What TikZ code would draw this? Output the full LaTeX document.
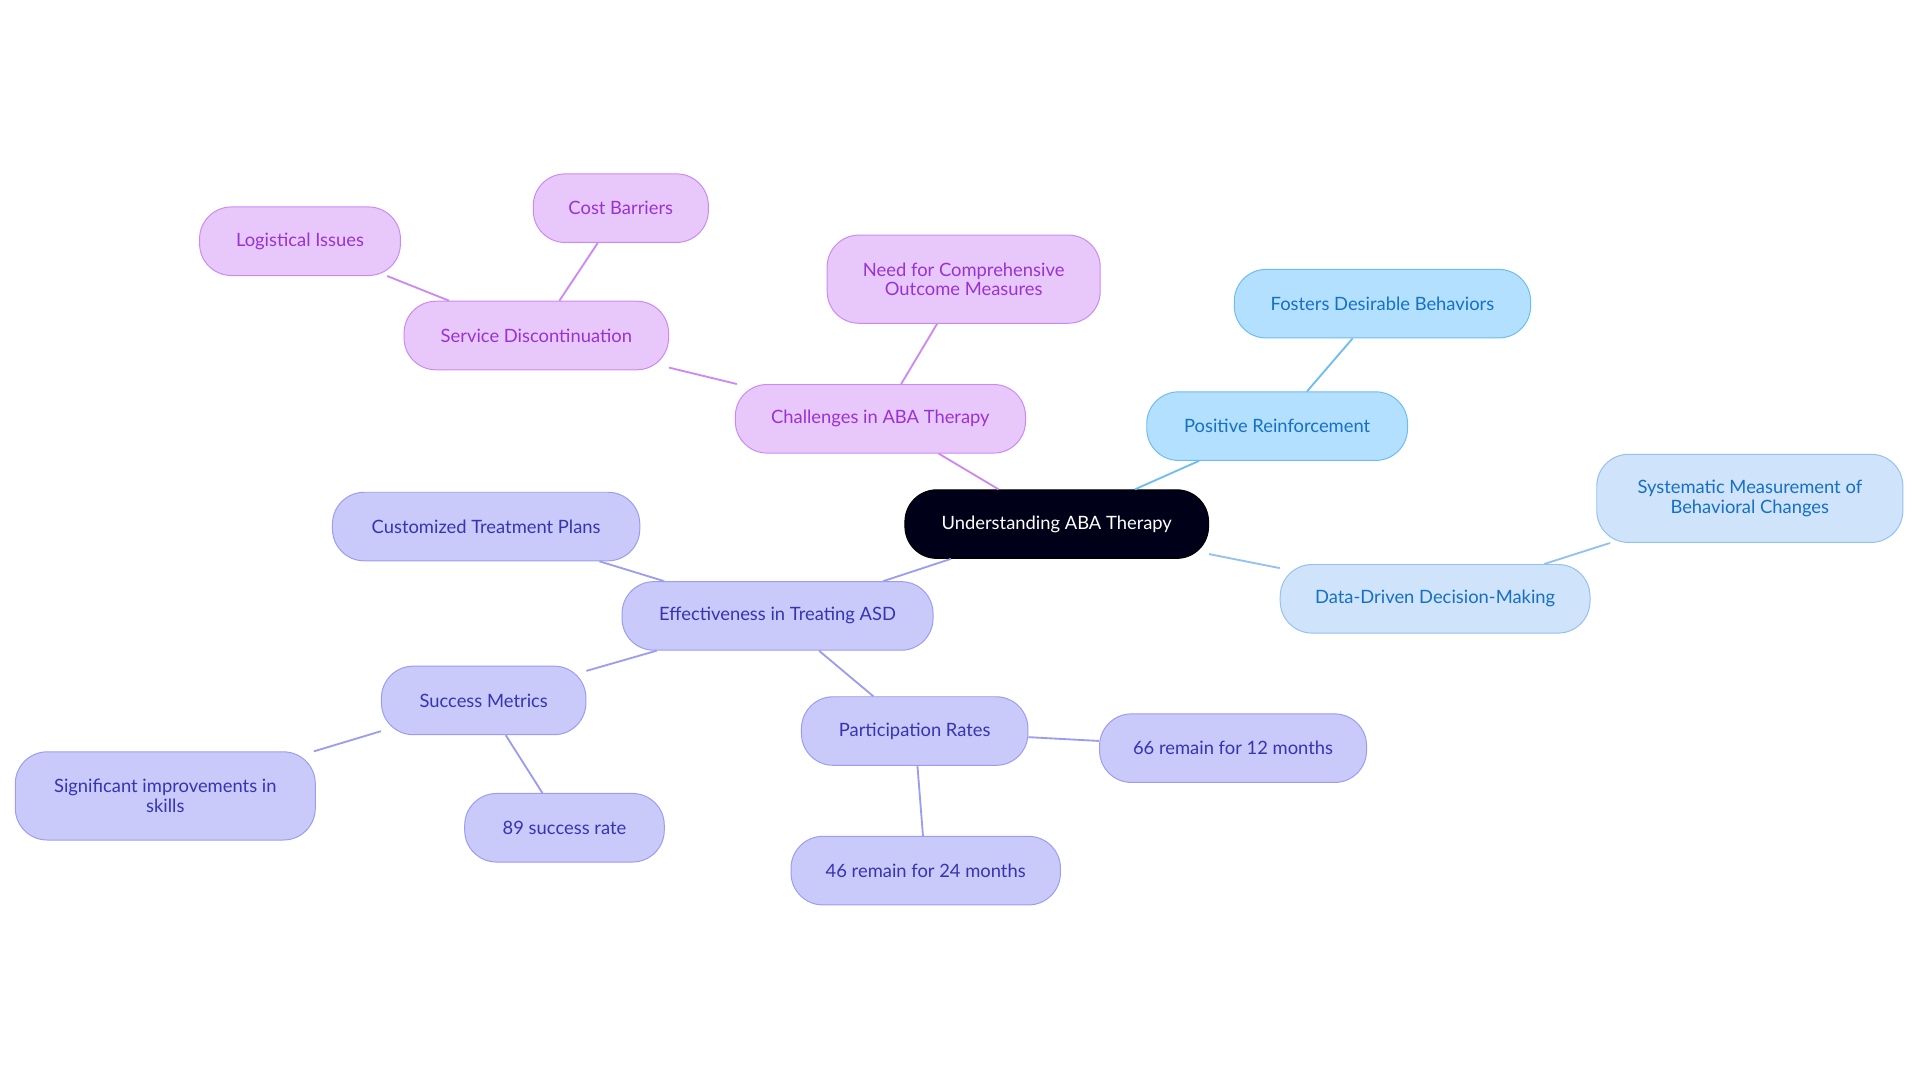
\documentclass[tikz,border=0pt]{standalone}
\usepackage{fontspec}
\setmainfont{Lato}
\definecolor{pf}{HTML}{E8C8FB}\definecolor{ps}{HTML}{CC88F5}\definecolor{pt}{HTML}{9A32D2}
\definecolor{bf}{HTML}{B3E0FF}\definecolor{bs}{HTML}{6DBDF2}\definecolor{bt}{HTML}{1670C4}
\definecolor{lf}{HTML}{CFE3FA}\definecolor{ls}{HTML}{94C0F2}
\definecolor{if}{HTML}{C9C9FA}\definecolor{is}{HTML}{9C9CF0}\definecolor{it}{HTML}{3535B2}
\tikzset{
 box/.style={rounded corners=26pt,draw,line width=0.8pt,minimum height=56pt,align=center,font=\fontsize{15}{16}\selectfont,inner sep=4pt},
 pb/.style={box,fill=pf,draw=ps,text=pt},
 bb/.style={box,fill=bf,draw=bs,text=bt},
 lb/.style={box,fill=lf,draw=ls,text=bt},
 ib/.style={box,fill=if,draw=is,text=it},
 pe/.style={draw=ps,line width=1.5pt},
 be/.style={draw=bs,line width=1.5pt},
 le/.style={draw=ls,line width=1.5pt},
 ie/.style={draw=is,line width=1.5pt}}
\begin{document}
\begin{tikzpicture}[x=1pt,y=-1pt]
\useasboundingbox[fill=white] (0,0) rectangle (1568,884);
\node[box,fill=black!90!blue,draw=black,text=white,minimum width=248pt] (c) at (863,428) {Understanding ABA Therapy};
\node[bb,minimum width=213pt] (pr) at (1043,348) {Positive Reinforcement};
\node[bb,minimum width=242pt] (fd) at (1129,248) {Fosters Desirable Behaviors};
\node[lb,minimum width=253pt] (dd) at (1172,489) {Data-Driven Decision-Making};
\node[lb,minimum width=250pt,minimum height=72pt] (sm) at (1429,407) {Systematic Measurement of\\Behavioral Changes};
\node[pb,minimum width=237pt] (ch) at (719,342) {Challenges in ABA Therapy};
\node[pb,minimum width=223pt,minimum height=72pt] (nf) at (787,228) {Need for Comprehensive\\Outcome Measures};
\node[pb,minimum width=216pt] (sd) at (438,274) {Service Discontinuation};
\node[pb,minimum width=143pt] (cb) at (507,170) {Cost Barriers};
\node[pb,minimum width=164pt] (li) at (245,197) {Logistical Issues};
\node[ib,minimum width=254pt] (ef) at (635,503) {Effectiveness in Treating ASD};
\node[ib,minimum width=251pt] (ct) at (397,430) {Customized Treatment Plans};
\node[ib,minimum width=167pt] (sme) at (395,572) {Success Metrics};
\node[ib,minimum width=245pt,minimum height=72pt] (si) at (135,650) {Significant improvements in\\skills};
\node[ib,minimum width=163pt] (s89) at (461,676) {89 success rate};
\node[ib,minimum width=185pt] (pa) at (747,597) {Participation Rates};
\node[ib,minimum width=218pt] (r66) at (1007,611) {66 remain for 12 months};
\node[ib,minimum width=220pt] (r46) at (756,711) {46 remain for 24 months};
\begin{scope}[on background layer/.style={}]
\end{scope}
\path[be] (c) -- (pr) (pr) -- (fd);
\path[le] (c) -- (dd) (dd) -- (sm);
\path[pe] (c) -- (ch) (ch) -- (nf) (ch) -- (sd) (sd) -- (cb) (sd) -- (li);
\path[ie] (c) -- (ef) (ef) -- (ct) (ef) -- (sme) (sme) -- (si) (sme) -- (s89) (ef) -- (pa) (pa) -- (r66) (pa) -- (r46);
\end{tikzpicture}
\end{document}
